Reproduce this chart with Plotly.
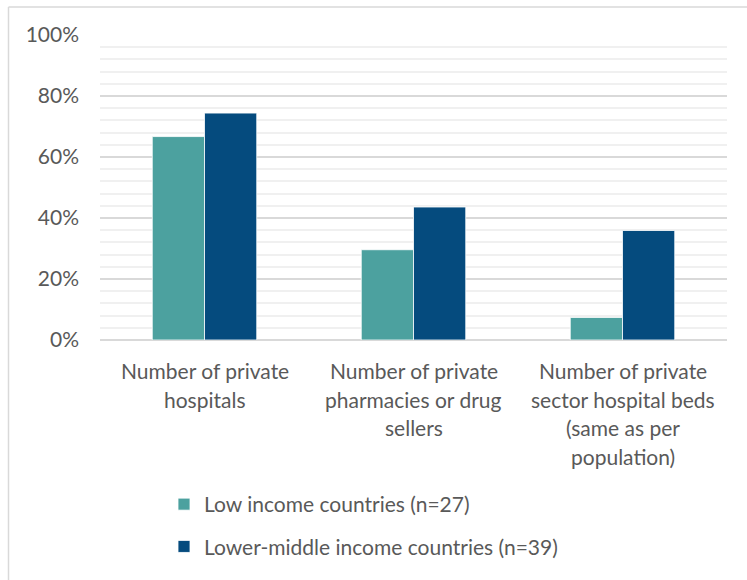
import plotly.graph_objects as go

# ---- data ----
categories = [
    "Number of private hospitals",
    "Number of private pharmacies or drug sellers",
    "Number of private sector hospital beds (same as per population)",
]
category_label_lines = [
    ["Number of private", "hospitals"],
    ["Number of private", "pharmacies or drug", "sellers"],
    ["Number of private", "sector hospital beds", "(same as per", "population)"],
]
series_names = ["Low income countries (n=27)", "Lower-middle income countries (n=39)"]
low_income = [0.667, 0.296, 0.074]
lower_middle_income = [0.744, 0.436, 0.359]
series_values = [low_income, lower_middle_income]
series_colors = ["#4CA19F", "#054B7E"]
y_tick_values = [0, 0.2, 0.4, 0.6, 0.8, 1.0]

# ---- layout geometry ----
W, H = 747, 580
ML, MR, MT, MB = 100, 20, 35, 240
PW, PH = W - ML - MR, H - MT - MB
FONT = "Lato, 'Open Sans', sans-serif"
FS = 21
TEXT_COLOR = "#595959"


def px_to_paper_x(px):
    return (px - ML) / PW


def px_to_paper_y(py):
    return (H - MB - py) / PH


fig = go.Figure()
for i, (name, vals, col) in enumerate(zip(series_names, series_values, series_colors)):
    fig.add_trace(go.Bar(
        x=categories, y=vals, name=name,
        marker=dict(color=col, line=dict(color="white", width=0.8)),
        legendgroup=f"g{i}",
    ))

annotations = []
for cat, lines in zip(categories, category_label_lines):
    for j, line in enumerate(lines):
        annotations.append(dict(
            x=cat, xref="x", y=0, yref="paper",
            text=line, showarrow=False,
            xanchor="center", yanchor="middle",
            yshift=-30.5 - 28.5 * j,
            font=dict(family=FONT, size=FS, color=TEXT_COLOR),
        ))

shapes = [
    # outer chart border (left and top edges visible)
    dict(type="line", xref="paper", yref="paper",
         x0=px_to_paper_x(8.5), x1=px_to_paper_x(8.5),
         y0=px_to_paper_y(7), y1=px_to_paper_y(H + 5),
         line=dict(color="#D9D9D9", width=1.5)),
    dict(type="line", xref="paper", yref="paper",
         x0=px_to_paper_x(8.5), x1=px_to_paper_x(W + 5),
         y0=px_to_paper_y(7), y1=px_to_paper_y(7),
         line=dict(color="#D9D9D9", width=1.5)),
]

fig.update_layout(
    width=W, height=H,
    margin=dict(l=ML, r=MR, t=MT, b=MB, pad=0),
    paper_bgcolor="white", plot_bgcolor="white",
    barmode="group", bargap=0.5, bargroupgap=0,
    font=dict(family=FONT, size=FS, color=TEXT_COLOR),
    showlegend=True,
    legend=dict(
        orientation="v", traceorder="grouped", tracegroupgap=12,
        x=px_to_paper_x(164), xanchor="left",
        y=px_to_paper_y(484), yanchor="top",
        font=dict(family=FONT, size=FS, color=TEXT_COLOR),
        bgcolor="rgba(0,0,0,0)",
    ),
    xaxis=dict(
        type="category", showticklabels=False, showgrid=False,
        showline=False, zeroline=False, ticks="",
    ),
    yaxis=dict(
        range=[0, 1.0], tickvals=y_tick_values, tickformat=".0%",
        showgrid=True, gridcolor="#D9D9D9", gridwidth=1.5,
        zeroline=True, zerolinecolor="#D9D9D9", zerolinewidth=1.5,
        showline=False, ticks="", ticklabelstandoff=20,
        tickfont=dict(family=FONT, size=FS, color=TEXT_COLOR),
        minor=dict(dtick=0.04, tick0=0, showgrid=True, gridcolor="#F0F0F0", gridwidth=1.5),
    ),
    annotations=annotations,
    shapes=shapes,
)

fig.write_html("out.html")
